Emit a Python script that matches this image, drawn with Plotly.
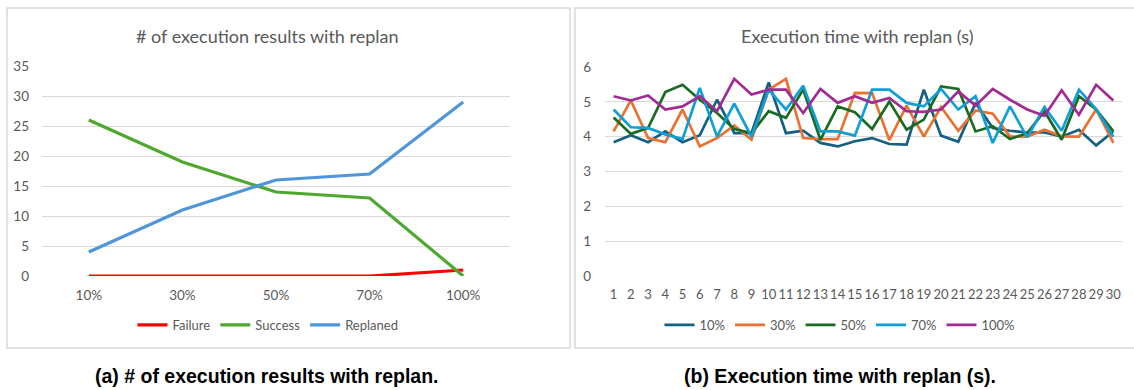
import plotly.graph_objects as go

# ---- Data: left chart ----
ratio_labels = ["10%", "30%", "50%", "70%", "100%"]
failure = [0, 0, 0, 0, 1]
success = [26, 19, 14, 13, 0]
replaned = [4, 11, 16, 17, 29]

# ---- Data: right chart ----
runs = list(range(1, 31))
t10 = [3.84, 4.04, 3.84, 4.15, 3.84, 4.04, 5.06, 4.10, 4.10, 5.56,
       4.10, 4.17, 3.82, 3.72, 3.87, 3.96, 3.79, 3.77, 5.35, 4.03,
       3.85, 4.97, 4.25, 4.17, 4.12, 4.12, 4.00, 4.20, 3.75, 4.15]
t30 = [4.15, 5.04, 3.96, 3.84, 4.78, 3.72, 3.96, 4.32, 3.91, 5.35,
       5.66, 3.96, 3.93, 3.93, 5.26, 5.25, 3.90, 4.89, 4.00, 4.85,
       4.17, 4.75, 4.66, 4.01, 4.00, 4.20, 4.01, 4.00, 4.78, 3.82]
t50 = [4.55, 4.08, 4.25, 5.28, 5.49, 5.06, 4.68, 4.22, 4.10, 4.73,
       4.54, 5.35, 3.91, 4.87, 4.70, 4.22, 5.01, 4.20, 4.49, 5.44,
       5.37, 4.15, 4.30, 3.93, 4.10, 4.73, 3.91, 5.16, 4.78, 4.15]
t70 = [4.78, 4.27, 4.25, 4.06, 3.93, 5.40, 4.00, 4.95, 4.00, 5.35,
       4.78, 5.46, 4.15, 4.15, 4.03, 5.35, 5.35, 4.97, 4.87, 5.37,
       4.78, 5.16, 3.82, 4.87, 3.98, 4.85, 4.17, 5.35, 4.79, 4.00]
t100 = [5.16, 5.04, 5.18, 4.78, 4.87, 5.16, 4.73, 5.66, 5.21, 5.35,
        5.35, 4.68, 5.37, 4.97, 5.16, 4.97, 5.11, 4.73, 4.71, 4.78,
        5.30, 4.89, 5.37, 5.06, 4.78, 4.60, 5.33, 4.63, 5.49, 5.04]

W, H = 1134, 390
def px(x): return x / W
def py(y): return 1 - y / H

fig = go.Figure()

left_series = [("Failure", failure, "#ff0000"),
               ("Success", success, "#4ea72e"),
               ("Replaned", replaned, "#4e95d9")]
for name, vals, col in left_series:
    fig.add_trace(go.Scatter(x=ratio_labels, y=vals, name=name, mode="lines",
                             line=dict(color=col, width=3.2),
                             xaxis="x", yaxis="y", legend="legend"))

right_series = [("10%", t10, "#156082"), ("30%", t30, "#e97132"),
                ("50%", t50, "#196b24"), ("70%", t70, "#0f9ed5"),
                ("100%", t100, "#a02b93")]
for name, vals, col in right_series:
    fig.add_trace(go.Scatter(x=runs, y=vals, name=name, mode="lines",
                             line=dict(color=col, width=2.7),
                             xaxis="x2", yaxis="y2", legend="legend2"))

FONT = "Lato, Open Sans, sans-serif"
tickfont = dict(family=FONT, size=13.5, color="#595959")
grid = "#d9d9d9"

fig.update_layout(
    width=W, height=H,
    margin=dict(l=0, r=0, t=0, b=0, autoexpand=False),
    paper_bgcolor="white", plot_bgcolor="white",
    xaxis=dict(domain=[px(42), px(510)], type="category", range=[-0.5, 4.5],
               showgrid=False, showline=False, zeroline=False, ticks="",
               tickfont=tickfont, ticklabelstandoff=9, anchor="y",
               automargin=False, tickangle=0),
    yaxis=dict(domain=[py(276), py(66)], range=[0, 35], dtick=5,
               showgrid=True, gridcolor=grid, gridwidth=1, zeroline=False,
               showline=False, tickfont=tickfont, ticklabelstandoff=12, anchor="x",
               automargin=False),
    xaxis2=dict(domain=[px(605), px(1122)], range=[0.5, 30.5], dtick=1, tick0=1,
                showgrid=False, showline=False, zeroline=False, ticks="",
                tickfont=dict(family=FONT, size=13, color="#595959"),
                ticklabelstandoff=9, anchor="y2",
                automargin=False, tickangle=0),
    yaxis2=dict(domain=[py(276), py(67)], range=[0, 6], dtick=1,
                showgrid=True, gridcolor=grid, gridwidth=1, zeroline=False,
                showline=False, tickfont=tickfont, ticklabelstandoff=13, anchor="x2",
                automargin=False),
    legend=dict(orientation="h", x=px(268), xanchor="center", y=py(325), yanchor="middle",
                font=dict(family=FONT, size=13, color="#595959"),
                bgcolor="rgba(0,0,0,0)", itemwidth=30),
    legend2=dict(orientation="h", x=px(840), xanchor="center", y=py(325), yanchor="middle",
                 font=dict(family=FONT, size=13, color="#595959"),
                 bgcolor="rgba(0,0,0,0)", itemwidth=30),
    showlegend=True,
)

# panel borders
fig.add_shape(type="rect", xref="paper", yref="paper",
              x0=px(7), x1=px(570), y0=py(348), y1=py(8),
              line=dict(color="#d9d9d9", width=1.5), fillcolor="rgba(0,0,0,0)", layer="below")
fig.add_shape(type="rect", xref="paper", yref="paper",
              x0=px(575), x1=px(1140), y0=py(348), y1=py(8),
              line=dict(color="#d9d9d9", width=1.5), fillcolor="rgba(0,0,0,0)", layer="below")

titlefont = dict(family=FONT, size=18, color="#595959")
fig.add_annotation(text="# of execution results with replan", xref="paper", yref="paper",
                   x=px(267), y=py(36), showarrow=False, font=titlefont,
                   xanchor="center", yanchor="middle")
fig.add_annotation(text="Execution time with replan (s)", xref="paper", yref="paper",
                   x=px(857), y=py(36), showarrow=False, font=titlefont,
                   xanchor="center", yanchor="middle")

capfont = dict(family="Liberation Sans, Arial, sans-serif", size=19.5, color="#000000")
fig.add_annotation(text="<b>(a) # of execution results with replan.</b>", xref="paper", yref="paper",
                   x=px(267), y=py(376), showarrow=False, font=capfont,
                   xanchor="center", yanchor="middle")
fig.add_annotation(text="<b>(b) Execution time with replan (s).</b>", xref="paper", yref="paper",
                   x=px(840), y=py(376), showarrow=False, font=capfont,
                   xanchor="center", yanchor="middle")

fig.write_html("out.html", config={"displayModeBar": False},
               post_script="document.body.style.margin='0';document.body.style.overflow='hidden';")
